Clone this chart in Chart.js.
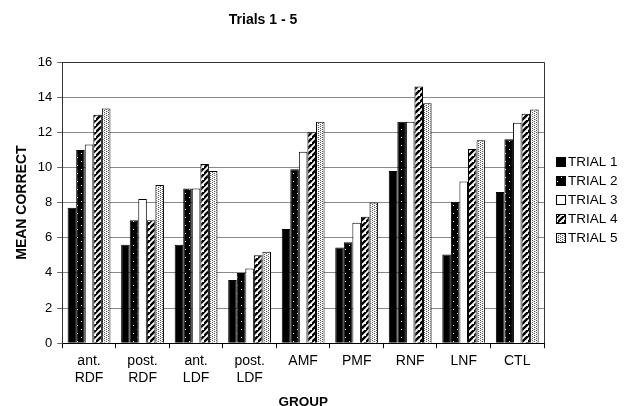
<!DOCTYPE html>
<html>
<head>
<meta charset="utf-8">
<script src="https://cdn.jsdelivr.net/npm/chart.js@4/dist/chart.umd.min.js"></script>
<style>
html,body{margin:0;padding:0;background:#fff;}
#wrap{width:624px;height:406px;position:relative;}
</style>
</head>
<body>
<div id="wrap"><canvas id="c" width="624" height="406"></canvas></div>
<script>
const categories = [['ant.','RDF'],['post.','RDF'],['ant.','LDF'],['post.','LDF'],'AMF','PMF','RNF','LNF','CTL'];
const seriesNames = ['TRIAL 1','TRIAL 2','TRIAL 3','TRIAL 4','TRIAL 5'];
const trial1 = [7.7, 5.6, 5.6, 3.6, 6.5, 5.45, 9.8, 5.05, 8.6];
const trial2 = [11.0, 7.0, 8.8, 4.0, 9.9, 5.75, 12.6, 8.05, 11.6];
const trial3 = [11.3, 8.2, 8.8, 4.25, 10.9, 6.85, 12.6, 9.2, 12.55];
const trial4 = [13.0, 7.0, 10.2, 5.0, 12.0, 7.2, 14.6, 11.05, 13.05];
const trial5 = [13.35, 9.0, 9.8, 5.2, 12.6, 8.0, 13.65, 11.55, 13.3];
const yTicks = [0, 2, 4, 6, 8, 10, 12, 14, 16];

function makePattern(draw, w, h) {
  const c = document.createElement('canvas');
  c.width = w; c.height = h;
  const g = c.getContext('2d');
  draw(g, w, h);
  return g.createPattern(c, 'repeat');
}
const ctx = document.getElementById('c').getContext('2d');
const pSolid = '#000';
const pDots = makePattern((g, w, h) => {
  g.fillStyle = '#000'; g.fillRect(0, 0, w, h);
  g.fillStyle = '#fff'; g.fillRect(1, 1, 1, 1); g.fillRect(5, 5, 1, 1);
}, 8, 8);
const pWhite = '#fff';
const pStripe = makePattern((g, w, h) => {
  g.fillStyle = '#fff'; g.fillRect(0, 0, w, h);
  g.strokeStyle = '#000'; g.lineWidth = 2.4;
  g.beginPath();
  g.moveTo(-1, h + 1); g.lineTo(w + 1, -1);
  g.moveTo(-1 - w, h + 1); g.lineTo(1, -1);
  g.moveTo(w - 1, 2 * h + 1); g.lineTo(2 * w + 1, h - 1);
  g.stroke();
}, 6, 6);
const pStipple = makePattern((g, w, h) => {
  g.fillStyle = '#fff'; g.fillRect(0, 0, w, h);
  g.fillStyle = '#555';
  g.fillRect(0, 0, 1, 1); g.fillRect(2, 1, 1, 1); g.fillRect(0, 2, 1, 1); g.fillRect(2, 3, 1, 1);
  g.fillStyle = '#ccc';
  g.fillRect(1, 1, 1, 1); g.fillRect(3, 3, 1, 1);
}, 4, 4);
const fills = [pSolid, pDots, pWhite, pStripe, pStipple];
const values = [trial1, trial2, trial3, trial4, trial5];

const frame = {
  id: 'frame',
  afterDatasetsDraw(chart) {
    const a = chart.chartArea, c = chart.ctx;
    c.save();
    c.strokeStyle = '#333'; c.lineWidth = 1;
    c.beginPath();
    c.moveTo(a.left, a.top + 0.5); c.lineTo(a.right + 0.5, a.top + 0.5); c.lineTo(a.right + 0.5, a.bottom);
    c.stroke();
    c.restore();
  },
  afterDraw(chart) {
    const c = chart.ctx;
    c.save();
    c.fillStyle = '#000';
    c.font = 'bold 14px "Liberation Sans", Arial, sans-serif';
    c.textAlign = 'center'; c.textBaseline = 'middle';
    c.fillText('Trials 1 - 5', 263, 20);
    // legend
    c.font = '13.5px "Liberation Sans", Arial, sans-serif';
    c.textAlign = 'left';
    chart.data.datasets.forEach((ds, i) => {
      const y = 162 + 19 * i;
      c.fillStyle = ds.backgroundColor;
      c.fillRect(556, y - 5, 10, 10);
      c.strokeStyle = '#000'; c.lineWidth = 1;
      c.strokeRect(556.5, y - 4.5, 9, 9);
      c.fillStyle = '#000';
      c.fillText(ds.label, 568, y + 0.5);
    });
    c.restore();
  }
};

Chart.defaults.font.family = '"Liberation Sans", Arial, sans-serif';
Chart.defaults.color = '#000';

new Chart(ctx, {
  type: 'bar',
  data: {
    labels: categories,
    datasets: values.map((v, i) => ({
      label: seriesNames[i],
      data: v,
      backgroundColor: fills[i],
      borderColor: '#000',
      borderWidth: 1,
      categoryPercentage: 0.8,
      barPercentage: 1.0
    }))
  },
  plugins: [frame],
  options: {
    responsive: false,
    animation: false,
    devicePixelRatio: 1,
    layout: { padding: { top: 62, left: 14, right: 80, bottom: -4 } },
    plugins: {
      title: { display: false },
      tooltip: { enabled: false },
      legend: { display: false }
    },
    scales: {
      x: {
        grid: { offset: true, drawOnChartArea: false, tickLength: 5, color: '#000' },
        border: { color: '#000' },
        ticks: { font: { size: 14, lineHeight: 1.2 }, color: '#000', maxRotation: 0, autoSkip: false, padding: 5 },
        title: { display: true, text: 'GROUP', font: { size: 13.5, weight: 'bold', lineHeight: 1.2 }, color: '#000', padding: { top: 2, bottom: 0 } }
      },
      y: {
        min: 0, max: 16,
        afterBuildTicks(scale) { scale.ticks = yTicks.map(v => ({ value: v })); },
        grid: { color: '#8a8a8a', tickLength: 5, tickColor: '#666' },
        border: { color: '#333' },
        ticks: { font: { size: 13 }, color: '#000', padding: 5 },
        title: { display: true, text: 'MEAN CORRECT', font: { size: 14, weight: 'bold', lineHeight: 1.2 }, color: '#000', padding: { top: 0, bottom: 2 } }
      }
    }
  }
});
</script>
</body>
</html>
